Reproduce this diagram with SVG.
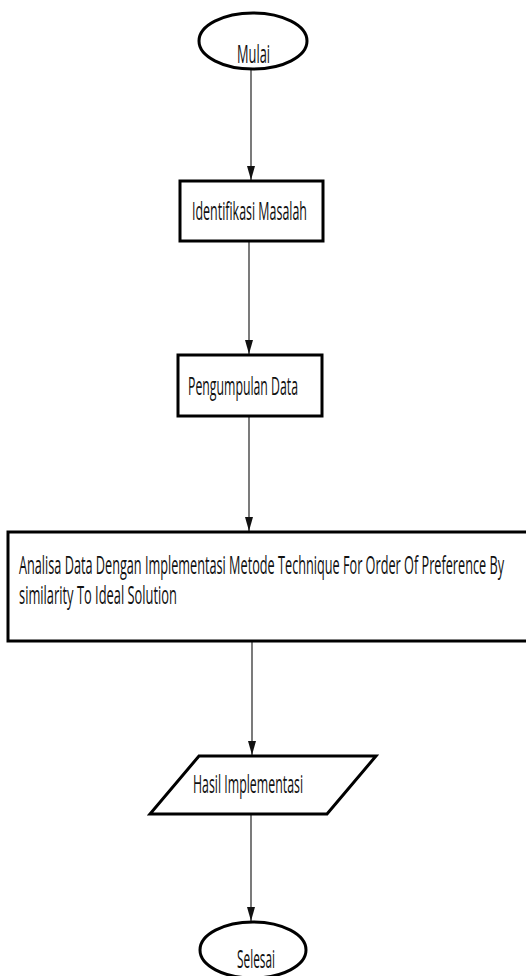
<svg xmlns="http://www.w3.org/2000/svg" width="526" height="976" viewBox="0 0 526 976">
<style>
.shape{fill:#fff;stroke:#000;stroke-width:3}
.lbl{font-family:"Open Sans","Liberation Sans",sans-serif;font-size:26px;fill:#111}
.conn{stroke:#222;stroke-width:1.2;fill:none}
</style>
<defs>
<marker id="ah" markerWidth="14" markerHeight="8" refX="14" refY="4" orient="auto" markerUnits="userSpaceOnUse" viewBox="0 0 14 8">
<path d="M0,0 L14,4 L0,8 Z" fill="#111"/>
</marker>
</defs>
<rect width="526" height="976" fill="#fff"/>
<g id="connectors">
<line class="conn" x1="251" y1="70" x2="251" y2="180" marker-end="url(#ah)"/>
<line class="conn" x1="249" y1="242" x2="249" y2="354" marker-end="url(#ah)"/>
<line class="conn" x1="249" y1="417" x2="249" y2="531" marker-end="url(#ah)"/>
<line class="conn" x1="252" y1="642" x2="252" y2="755" marker-end="url(#ah)"/>
<line class="conn" x1="251" y1="815" x2="251" y2="921" marker-end="url(#ah)"/>
</g>
<g id="mulai">
<ellipse class="shape" cx="253" cy="41" rx="54" ry="28"/>
<text class="lbl" x="237" y="63" textLength="33" lengthAdjust="spacingAndGlyphs">Mulai</text>
</g>
<g id="identifikasi">
<rect class="shape" x="180" y="181" width="143" height="60"/>
<text class="lbl" x="192" y="220" textLength="115" lengthAdjust="spacingAndGlyphs">Identifikasi Masalah</text>
</g>
<g id="pengumpulan">
<rect class="shape" x="178" y="355" width="144" height="61"/>
<text class="lbl" x="188" y="395" textLength="110" lengthAdjust="spacingAndGlyphs">Pengumpulan Data</text>
</g>
<g id="analisa">
<rect class="shape" x="8" y="532" width="530" height="109"/>
<text class="lbl" x="19" y="574" textLength="485" lengthAdjust="spacingAndGlyphs">Analisa Data Dengan Implementasi Metode Technique For Order Of Preference By</text>
<text class="lbl" x="19" y="604" textLength="158" lengthAdjust="spacingAndGlyphs">similarity To Ideal Solution</text>
</g>
<g id="hasil">
<polygon class="shape" points="199,756 376,756 327,814 150,814"/>
<text class="lbl" x="193" y="793" textLength="110" lengthAdjust="spacingAndGlyphs">Hasil Implementasi</text>
</g>
<g id="selesai">
<ellipse class="shape" cx="253" cy="950" rx="53" ry="28"/>
<text class="lbl" x="237" y="968" textLength="38" lengthAdjust="spacingAndGlyphs">Selesai</text>
</g>
</svg>
